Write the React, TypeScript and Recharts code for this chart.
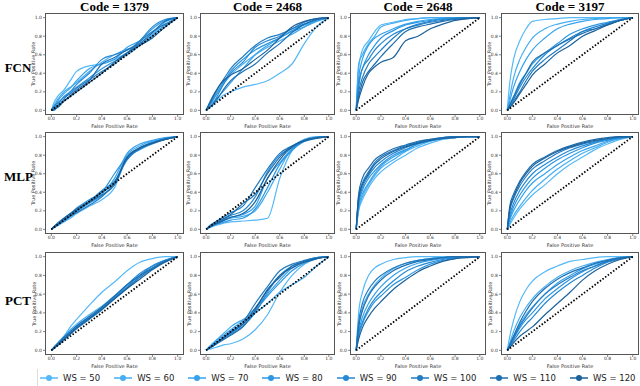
import { LineChart, Line, XAxis, YAxis } from 'recharts';

const FPR = [0, 0.02, 0.05, 0.1, 0.15, 0.2, 0.3, 0.4, 0.5, 0.6, 0.7, 0.8, 0.9, 1];
const WS = [50, 60, 70, 80, 90, 100, 110, 120];
const CODES = ['1379', '2468', '2648', '3197'];
const MODELS = ['FCN', 'MLP', 'PCT'];
const TICKS = [0, 0.2, 0.4, 0.6, 0.8, 1];
const COLORS = ['#55b8f7', '#45adf2', '#36a2ec', '#2c96e2', '#2589d4', '#217cc2', '#1e6fb0', '#1c629c'];

// tpr values per window size at the FPR grid above
const fcn1379 = [
  [0, 0.08, 0.15, 0.22, 0.32, 0.42, 0.48, 0.5, 0.55, 0.62, 0.72, 0.82, 0.92, 1],
  [0, 0.05, 0.12, 0.2, 0.25, 0.3, 0.42, 0.52, 0.6, 0.66, 0.7, 0.82, 0.95, 1],
  [0, 0.03, 0.1, 0.18, 0.24, 0.32, 0.45, 0.5, 0.55, 0.68, 0.75, 0.88, 0.97, 1],
  [0, 0.02, 0.06, 0.15, 0.2, 0.25, 0.35, 0.45, 0.53, 0.6, 0.7, 0.8, 0.92, 1],
  [0, 0.0, 0.04, 0.12, 0.2, 0.28, 0.4, 0.55, 0.6, 0.65, 0.75, 0.9, 0.98, 1],
  [0, 0.04, 0.08, 0.14, 0.18, 0.24, 0.33, 0.42, 0.5, 0.62, 0.74, 0.85, 0.93, 1],
  [0, 0.02, 0.05, 0.1, 0.16, 0.22, 0.32, 0.5, 0.57, 0.65, 0.72, 0.84, 0.96, 1],
  [0, 0.01, 0.03, 0.1, 0.15, 0.2, 0.3, 0.4, 0.52, 0.62, 0.7, 0.78, 0.9, 1],
];
const fcn2468 = [
  [0, 0.02, 0.05, 0.12, 0.17, 0.2, 0.25, 0.28, 0.32, 0.4, 0.5, 0.72, 0.9, 1],
  [0, 0.05, 0.1, 0.2, 0.3, 0.38, 0.5, 0.6, 0.68, 0.75, 0.82, 0.9, 0.97, 1],
  [0, 0.03, 0.08, 0.15, 0.22, 0.3, 0.45, 0.6, 0.7, 0.78, 0.85, 0.9, 0.96, 1],
  [0, 0.04, 0.1, 0.22, 0.32, 0.42, 0.55, 0.65, 0.72, 0.78, 0.86, 0.92, 0.97, 1],
  [0, 0.03, 0.06, 0.18, 0.3, 0.4, 0.52, 0.68, 0.75, 0.8, 0.88, 0.93, 0.98, 1],
  [0, 0.05, 0.12, 0.25, 0.35, 0.45, 0.58, 0.7, 0.78, 0.82, 0.88, 0.95, 0.99, 1],
  [0, 0.02, 0.06, 0.14, 0.24, 0.32, 0.42, 0.5, 0.62, 0.72, 0.84, 0.93, 0.98, 1],
  [0, 0.06, 0.14, 0.25, 0.33, 0.38, 0.45, 0.55, 0.65, 0.78, 0.9, 0.96, 0.99, 1],
];
const fcn2648 = [
  [0, 0.45, 0.65, 0.75, 0.85, 0.92, 0.95, 0.98, 0.99, 1, 1, 1, 1, 1],
  [0, 0.5, 0.6, 0.72, 0.8, 0.9, 0.94, 0.97, 0.99, 1, 1, 1, 1, 1],
  [0, 0.35, 0.55, 0.7, 0.78, 0.82, 0.88, 0.93, 0.96, 0.98, 0.99, 1, 1, 1],
  [0, 0.3, 0.45, 0.6, 0.7, 0.78, 0.86, 0.92, 0.95, 0.97, 0.99, 1, 1, 1],
  [0, 0.25, 0.45, 0.55, 0.65, 0.72, 0.82, 0.88, 0.93, 0.96, 0.98, 0.99, 1, 1],
  [0, 0.2, 0.35, 0.5, 0.58, 0.65, 0.78, 0.88, 0.92, 0.95, 0.97, 0.99, 1, 1],
  [0, 0.15, 0.3, 0.42, 0.5, 0.58, 0.72, 0.85, 0.9, 0.93, 0.96, 0.98, 0.99, 1],
  [0, 0.12, 0.25, 0.4, 0.47, 0.52, 0.57, 0.75, 0.8, 0.88, 0.93, 0.97, 0.99, 1],
];
const fcn3197 = [
  [0, 0.3, 0.55, 0.75, 0.88, 0.96, 0.98, 0.99, 1, 1, 1, 1, 1, 1],
  [0, 0.15, 0.35, 0.55, 0.68, 0.78, 0.88, 0.93, 0.96, 0.98, 0.99, 1, 1, 1],
  [0, 0.1, 0.25, 0.42, 0.55, 0.65, 0.78, 0.88, 0.93, 0.96, 0.98, 0.99, 1, 1],
  [0, 0.06, 0.15, 0.3, 0.4, 0.5, 0.62, 0.72, 0.82, 0.88, 0.92, 0.95, 0.98, 1],
  [0, 0.05, 0.12, 0.25, 0.36, 0.45, 0.6, 0.7, 0.78, 0.85, 0.9, 0.94, 0.98, 1],
  [0, 0.04, 0.1, 0.2, 0.32, 0.42, 0.55, 0.65, 0.75, 0.85, 0.88, 0.92, 0.97, 1],
  [0, 0.06, 0.14, 0.28, 0.4, 0.52, 0.62, 0.7, 0.77, 0.83, 0.88, 0.93, 0.97, 1],
  [0, 0.03, 0.08, 0.18, 0.28, 0.38, 0.5, 0.62, 0.7, 0.8, 0.86, 0.92, 0.97, 1],
];
const mlp1379 = [
  [0, 0.02, 0.04, 0.08, 0.12, 0.17, 0.25, 0.32, 0.45, 0.78, 0.88, 0.94, 0.98, 1],
  [0, 0.02, 0.05, 0.1, 0.14, 0.19, 0.28, 0.36, 0.5, 0.8, 0.9, 0.95, 0.98, 1],
  [0, 0.02, 0.06, 0.11, 0.16, 0.21, 0.3, 0.38, 0.55, 0.82, 0.92, 0.96, 0.99, 1],
  [0, 0.03, 0.07, 0.12, 0.17, 0.23, 0.32, 0.4, 0.6, 0.78, 0.86, 0.92, 0.97, 1],
  [0, 0.02, 0.05, 0.1, 0.15, 0.2, 0.3, 0.42, 0.52, 0.75, 0.87, 0.93, 0.97, 1],
  [0, 0.02, 0.05, 0.09, 0.14, 0.18, 0.26, 0.35, 0.5, 0.76, 0.88, 0.94, 0.98, 1],
  [0, 0.02, 0.05, 0.1, 0.15, 0.2, 0.29, 0.37, 0.48, 0.77, 0.87, 0.93, 0.97, 1],
  [0, 0.03, 0.06, 0.12, 0.17, 0.22, 0.3, 0.4, 0.5, 0.78, 0.88, 0.93, 0.97, 1],
];
const mlp2468 = [
  [0, 0.01, 0.03, 0.05, 0.07, 0.08, 0.09, 0.1, 0.12, 0.55, 0.85, 0.95, 0.99, 1],
  [0, 0.02, 0.04, 0.07, 0.1, 0.12, 0.14, 0.2, 0.4, 0.65, 0.88, 0.97, 1, 1],
  [0, 0.02, 0.05, 0.08, 0.11, 0.13, 0.16, 0.25, 0.55, 0.72, 0.87, 0.96, 0.99, 1],
  [0, 0.02, 0.04, 0.06, 0.08, 0.1, 0.12, 0.22, 0.45, 0.7, 0.85, 0.95, 0.99, 1],
  [0, 0.02, 0.05, 0.09, 0.12, 0.15, 0.2, 0.35, 0.62, 0.8, 0.88, 0.95, 0.99, 1],
  [0, 0.03, 0.06, 0.1, 0.14, 0.18, 0.25, 0.45, 0.65, 0.82, 0.9, 0.96, 0.99, 1],
  [0, 0.02, 0.05, 0.08, 0.12, 0.16, 0.28, 0.38, 0.6, 0.78, 0.9, 0.95, 0.98, 1],
  [0, 0.02, 0.04, 0.07, 0.1, 0.13, 0.17, 0.3, 0.55, 0.75, 0.89, 0.96, 0.99, 1],
];
const mlp2648 = [
  [0, 0.2, 0.32, 0.45, 0.55, 0.62, 0.72, 0.8, 0.88, 0.93, 0.97, 0.99, 1, 1],
  [0, 0.22, 0.35, 0.48, 0.58, 0.66, 0.75, 0.84, 0.9, 0.95, 0.98, 0.99, 1, 1],
  [0, 0.25, 0.38, 0.5, 0.6, 0.68, 0.78, 0.85, 0.92, 0.95, 0.98, 0.99, 1, 1],
  [0, 0.28, 0.42, 0.55, 0.63, 0.7, 0.8, 0.86, 0.92, 0.96, 0.98, 1, 1, 1],
  [0, 0.3, 0.45, 0.58, 0.67, 0.73, 0.82, 0.88, 0.93, 0.96, 0.98, 1, 1, 1],
  [0, 0.35, 0.5, 0.62, 0.72, 0.78, 0.85, 0.9, 0.94, 0.97, 0.99, 1, 1, 1],
  [0, 0.38, 0.55, 0.66, 0.75, 0.8, 0.87, 0.91, 0.95, 0.97, 0.99, 1, 1, 1],
  [0, 0.33, 0.48, 0.6, 0.7, 0.76, 0.84, 0.89, 0.93, 0.96, 0.98, 0.99, 1, 1],
];
const mlp3197 = [
  [0, 0.05, 0.12, 0.22, 0.3, 0.37, 0.48, 0.6, 0.7, 0.78, 0.86, 0.92, 0.97, 1],
  [0, 0.07, 0.15, 0.25, 0.34, 0.42, 0.54, 0.65, 0.74, 0.82, 0.88, 0.94, 0.98, 1],
  [0, 0.1, 0.2, 0.32, 0.42, 0.5, 0.6, 0.7, 0.78, 0.85, 0.9, 0.95, 0.98, 1],
  [0, 0.12, 0.24, 0.37, 0.47, 0.55, 0.66, 0.75, 0.82, 0.88, 0.93, 0.96, 0.99, 1],
  [0, 0.15, 0.28, 0.42, 0.52, 0.6, 0.7, 0.78, 0.85, 0.9, 0.94, 0.97, 0.99, 1],
  [0, 0.2, 0.33, 0.47, 0.57, 0.65, 0.74, 0.82, 0.88, 0.92, 0.95, 0.98, 0.99, 1],
  [0, 0.25, 0.38, 0.52, 0.62, 0.7, 0.78, 0.85, 0.9, 0.94, 0.97, 0.99, 1, 1],
  [0, 0.22, 0.35, 0.5, 0.6, 0.68, 0.77, 0.84, 0.89, 0.93, 0.96, 0.98, 1, 1],
];
const pct1379 = [
  [0, 0.03, 0.07, 0.15, 0.25, 0.33, 0.48, 0.62, 0.73, 0.85, 0.94, 0.98, 1, 1],
  [0, 0.03, 0.08, 0.15, 0.22, 0.28, 0.38, 0.47, 0.58, 0.7, 0.8, 0.9, 0.96, 1],
  [0, 0.03, 0.07, 0.13, 0.2, 0.26, 0.36, 0.45, 0.55, 0.66, 0.78, 0.88, 0.95, 1],
  [0, 0.02, 0.06, 0.12, 0.18, 0.25, 0.35, 0.44, 0.56, 0.68, 0.8, 0.9, 0.96, 1],
  [0, 0.02, 0.06, 0.12, 0.18, 0.24, 0.34, 0.45, 0.57, 0.7, 0.82, 0.9, 0.96, 1],
  [0, 0.02, 0.05, 0.11, 0.17, 0.23, 0.33, 0.43, 0.55, 0.67, 0.78, 0.87, 0.95, 1],
  [0, 0.03, 0.07, 0.14, 0.2, 0.26, 0.36, 0.46, 0.58, 0.7, 0.8, 0.88, 0.95, 1],
  [0, 0.02, 0.06, 0.12, 0.18, 0.24, 0.34, 0.44, 0.55, 0.66, 0.76, 0.86, 0.94, 1],
];
const pct2468 = [
  [0, 0.01, 0.02, 0.04, 0.06, 0.07, 0.12, 0.22, 0.38, 0.62, 0.8, 0.92, 0.98, 1],
  [0, 0.03, 0.07, 0.13, 0.19, 0.25, 0.33, 0.4, 0.5, 0.62, 0.7, 0.78, 0.9, 1],
  [0, 0.03, 0.06, 0.12, 0.17, 0.22, 0.32, 0.45, 0.6, 0.75, 0.88, 0.95, 0.99, 1],
  [0, 0.02, 0.05, 0.1, 0.14, 0.18, 0.28, 0.42, 0.58, 0.72, 0.85, 0.93, 0.98, 1],
  [0, 0.02, 0.04, 0.09, 0.13, 0.17, 0.26, 0.4, 0.62, 0.8, 0.9, 0.95, 0.99, 1],
  [0, 0.02, 0.05, 0.1, 0.15, 0.2, 0.3, 0.5, 0.68, 0.85, 0.92, 0.96, 0.99, 1],
  [0, 0.02, 0.04, 0.08, 0.12, 0.16, 0.25, 0.43, 0.65, 0.78, 0.9, 0.95, 0.98, 1],
  [0, 0.02, 0.04, 0.09, 0.14, 0.19, 0.28, 0.45, 0.64, 0.8, 0.88, 0.94, 0.98, 1],
];
const pct2648 = [
  [0, 0.4, 0.62, 0.8, 0.88, 0.92, 0.97, 0.99, 1, 1, 1, 1, 1, 1],
  [0, 0.25, 0.45, 0.6, 0.7, 0.77, 0.87, 0.93, 0.96, 0.98, 0.99, 1, 1, 1],
  [0, 0.2, 0.35, 0.5, 0.6, 0.68, 0.8, 0.88, 0.93, 0.96, 0.98, 0.99, 1, 1],
  [0, 0.15, 0.28, 0.42, 0.52, 0.58, 0.7, 0.78, 0.86, 0.92, 0.96, 0.98, 1, 1],
  [0, 0.18, 0.3, 0.45, 0.55, 0.62, 0.74, 0.84, 0.9, 0.94, 0.97, 0.99, 1, 1],
  [0, 0.3, 0.5, 0.65, 0.74, 0.8, 0.88, 0.93, 0.96, 0.98, 0.99, 1, 1, 1],
  [0, 0.25, 0.42, 0.58, 0.68, 0.75, 0.85, 0.91, 0.95, 0.97, 0.99, 1, 1, 1],
  [0, 0.12, 0.24, 0.36, 0.45, 0.52, 0.65, 0.75, 0.84, 0.9, 0.95, 0.98, 0.99, 1],
];
const pct3197 = [
  [0, 0.15, 0.32, 0.52, 0.65, 0.74, 0.84, 0.9, 0.95, 0.97, 0.99, 1, 1, 1],
  [0, 0.08, 0.2, 0.35, 0.46, 0.55, 0.68, 0.78, 0.85, 0.9, 0.94, 0.97, 0.99, 1],
  [0, 0.06, 0.15, 0.28, 0.38, 0.46, 0.6, 0.72, 0.8, 0.87, 0.92, 0.96, 0.99, 1],
  [0, 0.05, 0.12, 0.24, 0.33, 0.4, 0.55, 0.66, 0.76, 0.84, 0.9, 0.95, 0.98, 1],
  [0, 0.04, 0.1, 0.2, 0.28, 0.35, 0.5, 0.62, 0.72, 0.8, 0.88, 0.94, 0.98, 1],
  [0, 0.05, 0.13, 0.26, 0.36, 0.45, 0.6, 0.7, 0.78, 0.85, 0.9, 0.95, 0.98, 1],
  [0, 0.06, 0.15, 0.3, 0.42, 0.52, 0.66, 0.76, 0.83, 0.88, 0.93, 0.96, 0.99, 1],
  [0, 0.03, 0.08, 0.15, 0.2, 0.25, 0.38, 0.5, 0.62, 0.75, 0.85, 0.92, 0.97, 1],
];

const PANELS = [
  [fcn1379, fcn2468, fcn2648, fcn3197],
  [mlp1379, mlp2468, mlp2648, mlp3197],
  [pct1379, pct2468, pct2648, pct3197],
];

const COL_X = [[45, 184], [200, 335], [350, 486], [501, 639]];
const ROW_Y = [[13, 115], [132, 234], [252, 355]];
const ROW_LABEL_Y = [68, 177, 301];

const fmt = (v: number) => v.toFixed(1);
const tickFont = { fontSize: 4.5, fill: '#333', fontFamily: 'DejaVu Sans' };

function Panel({ curves, x0, x1, y0, y1 }: { curves: number[][]; x0: number; x1: number; y0: number; y1: number }) {
  const w = x1 - x0;
  const h = y1 - y0;
  const data = FPR.map((f, i) => {
    const row: Record<string, number> = { fpr: f, diag: f };
    WS.forEach((ws, k) => {
      row['ws' + ws] = curves[k][i];
    });
    return row;
  });
  const yw = 16;
  return (
    <div style={{ position: 'absolute', left: x0 - yw, top: y0 }}>
      <LineChart width={w + yw} height={h + 8} data={data} margin={{ top: 0, right: 0, bottom: 0, left: 0 }}>
        <XAxis
          dataKey="fpr"
          type="number"
          domain={[-0.05, 1.05]}
          ticks={TICKS}
          tickFormatter={fmt}
          tick={tickFont}
          tickSize={2}
          tickMargin={0}
          height={8}
          axisLine={false}
          tickLine={{ stroke: '#333', strokeWidth: 0.6 }}
          interval={0}
        />
        <YAxis
          type="number"
          domain={[-0.05, 1.05]}
          ticks={TICKS}
          tickFormatter={fmt}
          tick={tickFont}
          tickSize={2}
          tickMargin={1}
          width={yw}
          axisLine={false}
          tickLine={{ stroke: '#333', strokeWidth: 0.6 }}
          interval={0}
        />
        {WS.map((ws, k) => (
          <Line
            key={ws}
            dataKey={'ws' + ws}
            type="monotone"
            stroke={COLORS[k]}
            strokeWidth={1.2}
            dot={false}
            isAnimationActive={false}
          />
        ))}
        <Line
          dataKey="diag"
          type="linear"
          stroke="#000"
          strokeWidth={1.8}
          strokeDasharray="1.5 1.8"
          dot={false}
          isAnimationActive={false}
        />
      </LineChart>
      <div
        style={{
          position: 'absolute',
          left: yw,
          top: 0,
          width: w - 2,
          height: h - 2,
          border: '1px solid #555',
          pointerEvents: 'none',
        }}
      />
      <div
        style={{
          position: 'absolute',
          left: yw,
          top: h + 8,
          width: w,
          textAlign: 'center',
          fontSize: 5,
          lineHeight: '6px',
          fontFamily: 'DejaVu Sans',
          color: '#333',
        }}
      >
        False Positive Rate
      </div>
      <div
        style={{
          position: 'absolute',
          left: 4 - h / 2,
          top: h / 2 - 3,
          width: h,
          textAlign: 'center',
          fontSize: 5,
          lineHeight: '6px',
          fontFamily: 'DejaVu Sans',
          color: '#333',
          transform: 'rotate(-90deg)',
        }}
      >
        True Positive Rate
      </div>
    </div>
  );
}

function LegendIcon({ color }: { color: string }) {
  return (
    <svg width={18} height={8} style={{ display: 'block' }}>
      <line x1={0} y1={4} x2={18} y2={4} stroke={color} strokeWidth={1.5} />
      <circle cx={9} cy={4} r={3} fill={color} />
    </svg>
  );
}

export default function App() {
  return (
    <div
      style={{
        position: 'absolute',
        left: 0,
        top: 0,
        width: 640,
        height: 386,
        background: '#fff',
        overflow: 'hidden',
      }}
    >
      {CODES.map((code, c) => (
        <div
          key={code}
          style={{
            position: 'absolute',
            left: (COL_X[c][0] + COL_X[c][1]) / 2 - 60,
            top: 0,
            width: 120,
            textAlign: 'center',
            fontFamily: 'Liberation Serif',
            fontWeight: 'bold',
            fontSize: 13,
            lineHeight: '13px',
          }}
        >
          Code = {code}
        </div>
      ))}
      {MODELS.map((m, r) => (
        <div
          key={m}
          style={{
            position: 'absolute',
            left: 4,
            top: ROW_LABEL_Y[r] - 7,
            width: 28,
            textAlign: 'center',
            fontFamily: 'Liberation Serif',
            fontWeight: 'bold',
            fontSize: 13,
            lineHeight: '14px',
          }}
        >
          {m}
        </div>
      ))}
      {PANELS.map((row, r) =>
        row.map((curves, c) => (
          <Panel
            key={r + '-' + c}
            curves={curves}
            x0={COL_X[c][0]}
            x1={COL_X[c][1]}
            y0={ROW_Y[r][0]}
            y1={ROW_Y[r][1]}
          />
        ))
      )}
      <div
        style={{
          position: 'absolute',
          left: 37,
          top: 369,
          height: 20,
          borderLeft: '1px solid #ddd',
        }}
      />
      <div
        style={{
          position: 'absolute',
          left: 40,
          top: 372,
          display: 'flex',
          alignItems: 'center',
          fontFamily: 'DejaVu Sans',
          fontSize: 8.5,
          lineHeight: '12px',
          color: '#222',
          whiteSpace: 'nowrap',
        }}
      >
        {WS.map((ws, k) => (
          <div key={ws} style={{ display: 'flex', alignItems: 'center', marginRight: 14 }}>
            <LegendIcon color={COLORS[k]} />
            <span style={{ marginLeft: 5 }}>WS = {ws}</span>
          </div>
        ))}
      </div>
    </div>
  );
}
